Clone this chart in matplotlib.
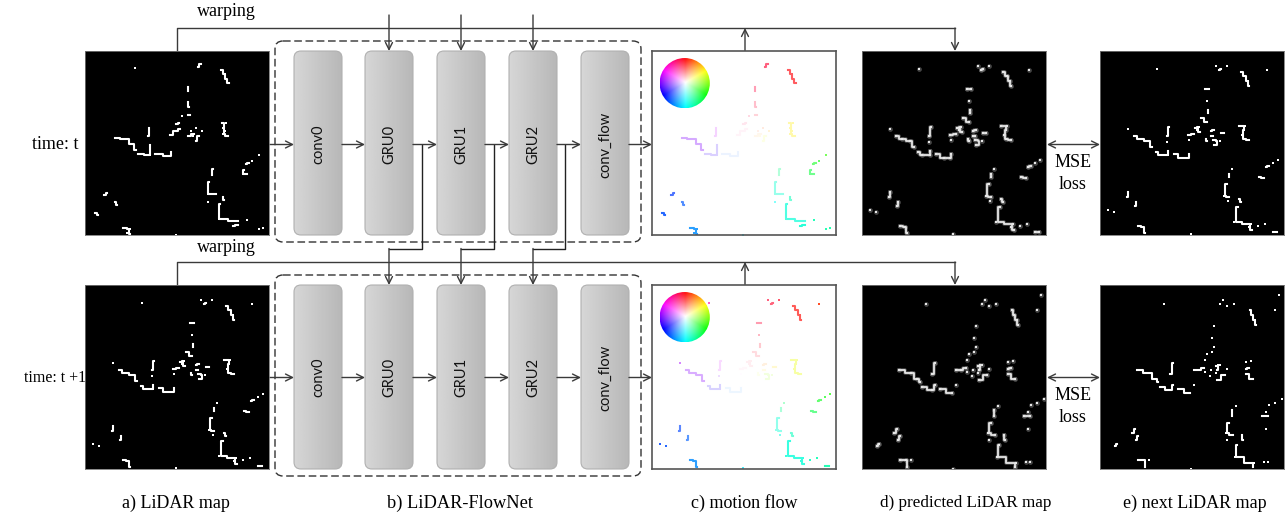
import colorsys

import matplotlib
matplotlib.use('Agg')
import matplotlib.pyplot as plt
import numpy as np
from matplotlib.colors import hsv_to_rgb
from matplotlib.patches import Circle, FancyBboxPatch

W, H = 1287, 517

# LiDAR returns, as (x, y) runs on a 183 x 183 map
FRAME_T = [
    [(50, 17)], [(112, 16), (115, 13)], [(135, 19), (139, 23), (140, 28), (143, 32)],
    [(102, 36), (102, 40)], [(102, 51), (103, 56)], [(102, 64), (104, 64)],
    [(96, 65)], [(93, 72), (91, 73)], [(94, 78), (90, 80), (85, 84)],
    [(105, 80)], [(110, 77)], [(116, 80)], [(102, 85), (108, 83)], [(113, 85), (110, 90)], [(107, 85)],
    [(136, 72), (140, 72), (137, 77), (139, 80), (137, 83), (142, 85)],
    [(64, 77), (63, 85)], [(30, 87), (40, 88), (47, 92), (51, 98)],
    [(53, 102), (65, 103), (65, 93)], [(70, 102), (85, 104), (86, 100)],
    [(173, 103)], [(166, 109)], [(160, 112), (163, 111)], [(158, 118), (157, 122), (161, 122)],
    [(127, 117), (126, 123)], [(123, 130), (122, 142), (130, 142)], [(122, 150)],
    [(137, 145), (138, 148)], [(134, 152), (133, 167), (152, 169)], [(147, 174), (152, 173)],
    [(161, 168)], [(173, 177)], [(177, 176)], [(22, 141), (19, 143)], [(30, 150), (32, 153)],
    [(10, 161), (13, 163)], [(38, 176), (45, 177), (42, 181), (45, 182)], [(91, 183)],
]
FRAME_T1 = [
    [(57, 18)], [(115, 15)], [(120, 18), (118, 19)], [(126, 15)], [(166, 19)],
    [(140, 21), (144, 25), (147, 30), (148, 35)], [(104, 38), (108, 38)], [(106, 50)],
    [(107, 59), (107, 62)], [(100, 67), (106, 71)],
    [(94, 77), (98, 76), (96, 79), (99, 81)], [(93, 83), (88, 84)], [(89, 89)],
    [(110, 80), (113, 79)], [(110, 85), (112, 85)], [(120, 82), (123, 82)], [(105, 88), (106, 90)],
    [(112, 89), (119, 90), (113, 93)], [(138, 75), (144, 75), (143, 79), (141, 84), (143, 88), (148, 89)],
    [(69, 76), (67, 85)], [(67, 91)], [(28, 78)], [(34, 85), (40, 88), (48, 90), (52, 95)],
    [(56, 100), (60, 103), (68, 103), (68, 99)], [(74, 102), (82, 106), (88, 106), (89, 102)],
    [(177, 108)], [(172, 111)], [(165, 115), (168, 114)], [(158, 125), (163, 126)],
    [(131, 117)], [(128, 122), (128, 125)], [(126, 132), (123, 144), (128, 145)], [(127, 149)],
    [(138, 147), (140, 150)], [(137, 155), (133, 170), (150, 172), (148, 175), (151, 178)],
    [(157, 174)], [(164, 172)], [(28, 140), (27, 145)], [(36, 150), (35, 154)], [(8, 158)], [(14, 160)],
    [(38, 174), (43, 175), (45, 181)], [(91, 182)], [(172, 180), (176, 180)],
]
FRAME_T2 = [
    [(64, 19)], [(119, 19)], [(122, 15)], [(126, 21)], [(133, 19)], [(178, 10)], [(174, 25)],
    [(149, 25), (151, 30), (154, 35), (155, 40)], [(113, 41)], [(111, 53)], [(113, 62)],
    [(111, 67)], [(106, 69)], [(104, 75)], [(93, 85), (98, 85), (103, 83)], [(104, 87)],
    [(115, 81), (119, 80), (116, 85)], [(110, 85)], [(115, 88)], [(109, 91)], [(116, 94), (124, 90)], [(126, 84)],
    [(145, 77)], [(150, 76)], [(148, 83), (145, 84)], [(145, 89), (152, 93)],
    [(73, 78), (70, 89)], [(37, 85), (49, 88), (55, 93), (58, 96)], [(60, 101), (70, 104), (73, 99)],
    [(78, 103), (90, 107)], [(93, 99)], [(181, 113)], [(174, 117)], [(168, 119)],
    [(161, 130), (167, 130)], [(165, 126)], [(165, 143)], [(135, 120)], [(131, 124), (131, 130)],
    [(128, 137), (125, 147), (132, 149)], [(126, 154)], [(141, 149), (142, 154)],
    [(136, 159), (134, 171), (153, 177), (152, 181)], [(163, 176)], [(167, 176)],
    [(35, 143), (32, 147)], [(38, 150), (36, 154)], [(17, 158), (15, 160)],
    [(38, 174), (44, 174), (45, 181)], [(49, 174)], [(91, 183)],
]

BLOCK_LABELS = ['conv0', 'GRU0', 'GRU1', 'GRU2', 'conv_flow']
CAPTIONS = ['a) LiDAR map', 'b) LiDAR-FlowNet', 'c) motion flow', 'd) predicted LiDAR map', 'e) next LiDAR map']
CAPTION_X = [176, 460, 744, 966, 1195]
CAPTION_SIZE = [13, 13.2, 13, 12.3, 13]
ROW_LABELS = ['time: t', 'time: t +1']
ROW_LABEL_SIZE = [13, 11.5]

BLOCK_X = [294, 365, 437, 509, 581]
BLOCK_W = 48
ROW_TOP = [51, 285]
ROW_MID = [144.5, 377.5]
MAP_SIZE = 184
SERIF = 'Liberation Serif'
LINE = '#3a3a3a'

fig = plt.figure(figsize=(W / 100, H / 100), dpi=100)
ax = fig.add_axes([0, 0, 1, 1])
ax.set_axis_off()


def arrow(x0, y0, x1, y1, style='->'):
    ax.annotate('', xy=(x1, y1), xytext=(x0, y0),
                arrowprops=dict(arrowstyle=style + ',head_width=0.25,head_length=0.5', color=LINE,
                                lw=1, shrinkA=0, shrinkB=0))


def flow_colour(x, y):
    # same colour coding as the wheel: hue from direction, saturation from length
    dx, dy = x - 91.5, y - 91.5
    angle = np.degrees(np.arctan2(dx, -dy)) % 360
    hue = np.interp(angle, [0, 39, 77, 103, 154, 180, 233, 270, 360], [340, 360, 420, 480, 540, 545, 585, 630, 700])
    sat = min(0.85, (np.hypot(dx, dy) / 115) ** 1.3)
    return colorsys.hsv_to_rgb((hue % 360) / 360, sat, 1)


def lidar_map(x0, y0, frame, mode):
    sub = fig.add_axes([x0 / W, 1 - (y0 + MAP_SIZE) / H, MAP_SIZE / W, MAP_SIZE / H])
    sub.set_xlim(0, 183)
    sub.set_ylim(183, 0)
    sub.set_xticks([])
    sub.set_yticks([])
    sub.set_facecolor('white' if mode == 'flow' else 'black')
    for spine in sub.spines.values():
        spine.set_color('#555555' if mode == 'flow' else '#777777')
        spine.set_linewidth(1.2 if mode == 'flow' else 0.6)
    for run in frame:
        xs, ys = zip(*run)
        if mode == 'flow':
            c = flow_colour(np.mean(xs), np.mean(ys))
            sub.plot(xs, ys, '-s', color=c, lw=1.5, ms=2, mew=0, drawstyle='steps-mid')
        elif mode == 'pred':
            sub.plot(xs, ys, '-o', color='#8a8a8a', lw=2.6, ms=3.4, mew=0, alpha=0.5, drawstyle='steps-mid')
            sub.plot(xs, ys, '-s', color='#e6e6e6', lw=1.3, ms=1.9, mew=0, drawstyle='steps-mid')
        else:
            sub.plot(xs, ys, '-s', color='white', lw=1.5, ms=2.1, mew=0, drawstyle='steps-mid')
    return sub


def colour_wheel(n=200):
    yy, xx = np.mgrid[-1:1:n * 1j, -1:1:n * 1j]
    hue = (np.degrees(np.arctan2(xx, -yy)) % 360) / 360
    sat = np.clip(np.hypot(xx, yy), 0, 1)
    return hsv_to_rgb(np.dstack([hue, sat, np.ones_like(hue)]))


shade = np.linspace(0.84, 0.72, 64).reshape(1, -1)
wheel_rgb = colour_wheel()
for top, mid, frame, next_frame in zip(ROW_TOP, ROW_MID, [FRAME_T, FRAME_T1], [FRAME_T1, FRAME_T2]):
    # dashed network outline
    ax.add_patch(FancyBboxPatch((275, top - 10), 366, 201, boxstyle='round,pad=0,rounding_size=8',
                                fill=False, ec='#333333', lw=1, ls=(0, (5.5, 2.6))))
    # blocks
    for x, label in zip(BLOCK_X, BLOCK_LABELS):
        box = FancyBboxPatch((x, top), BLOCK_W, MAP_SIZE, boxstyle='round,pad=0,rounding_size=7',
                             fc='none', ec='#b0b0b0', lw=0.8, zorder=3)
        ax.add_patch(box)
        im = ax.imshow(shade, extent=(x, x + BLOCK_W, top + MAP_SIZE, top), cmap='gray', vmin=0, vmax=1,
                       aspect='auto', zorder=2)
        im.set_clip_path(box)
        ax.text(x + BLOCK_W / 2, mid, label, rotation=90, ha='center', va='center', family='Lato', fontsize=10.5,
                color='#111111', zorder=4)
    # arrows through the row
    for x0, x1 in zip([268] + [x + BLOCK_W for x in BLOCK_X], BLOCK_X + [652]):
        arrow(x0, mid, x1, mid)
    # warping path and the flow output
    wy = top - 23
    ax.plot([177, 177, 955], [top, wy, wy], color=LINE, lw=1)
    arrow(955, wy, 955, top)
    arrow(745, top, 745, wy)
    ax.text(226, wy - 16 if top < 100 else wy - 14, 'warping', family=SERIF, fontsize=13, ha='center', va='center')
    ax.text(1073, mid + 18, 'MSE', family=SERIF, fontsize=13, ha='center', va='center')
    ax.text(1073, mid + 40, 'loss', family=SERIF, fontsize=13, ha='center', va='center')
    arrow(1047, mid, 1100, mid, '<->')

    lidar_map(85, top, frame, 'raw')
    sub = lidar_map(652, top, frame, 'flow')
    wheel = sub.imshow(wheel_rgb, extent=(7.5, 57.5, 57, 7), aspect='auto', zorder=3)
    wheel.set_clip_path(Circle((32.5, 32), 25, transform=sub.transData))
    sub.set_xlim(0, 183)
    sub.set_ylim(183, 0)
    lidar_map(862, top, next_frame, 'pred')
    lidar_map(1100, top, next_frame, 'raw')

# GRU states passed in from the top and on to the next time step
for x, out_x in zip(BLOCK_X[1:4], [422, 493.5, 565]):
    cx = x + BLOCK_W / 2
    arrow(cx, 15, cx, ROW_TOP[0])
    ax.plot([out_x, out_x, cx], [ROW_MID[0], 248.5, 248.5], color='#222222', lw=1)
    arrow(cx, 248.5, cx, ROW_TOP[1])

for mid, label, size in zip(ROW_MID, ROW_LABELS, ROW_LABEL_SIZE):
    ax.text(55, mid, label, family=SERIF, fontsize=size, ha='center', va='center')
for x, label, size in zip(CAPTION_X, CAPTIONS, CAPTION_SIZE):
    ax.text(x, 503, label, family=SERIF, fontsize=size, ha='center', va='center')

ax.set_xlim(0, W)
ax.set_ylim(H, 0)
fig.savefig('out.png', dpi=100)
